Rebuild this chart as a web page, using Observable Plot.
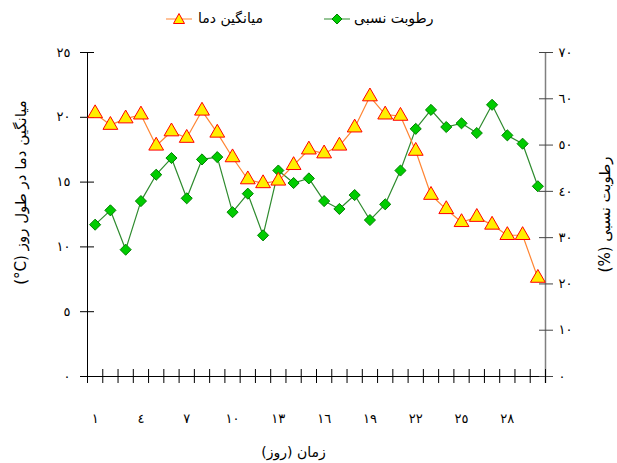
<!DOCTYPE html>
<html><head><meta charset="utf-8">
<script src="https://cdn.jsdelivr.net/npm/d3@7"></script>
<script src="https://cdn.jsdelivr.net/npm/@observablehq/plot@0.6"></script>
<style>
body{margin:0;background:#fff;font-family:"DejaVu Sans",sans-serif;}
#wrap{position:relative;width:617px;}
#legend{position:relative;height:35px;width:617px;}
#legend .sw{position:absolute;top:12px;}
#legend .lb{position:absolute;top:10px;font-size:14px;color:#000;white-space:nowrap;}
</style></head><body>
<div id="wrap"><div id="legend"></div><div id="chart"></div></div>
<script>
// ---- data ----
const days = [1,2,3,4,5,6,7,8,9,10,11,12,13,14,15,16,17,18,19,20,21,22,23,24,25,26,27,28,29,30];
const temperature = [20.3,19.4,19.9,20.2,17.8,18.9,18.4,20.5,18.8,16.9,15.2,14.9,15.1,16.3,17.5,17.2,17.8,19.2,21.6,20.2,20.1,17.4,14.0,12.9,11.9,12.3,11.7,10.9,10.9,7.6];
const humidity = [32.8,35.9,27.4,37.9,43.6,47.2,38.5,46.9,47.4,35.5,39.5,30.5,44.5,41.8,42.8,37.9,36.2,39.2,33.8,37.2,44.5,53.5,57.6,53.9,54.7,52.6,58.7,52.1,50.3,41.1];
const leftTicks = [0,5,10,15,20,25];
const rightTicks = [0,10,20,30,40,50,60,70];
const xLabelTicks = [1,4,7,10,13,16,19,22,25,28];
const xBoundaries = [0.5,1.5,2.5,3.5,4.5,5.5,6.5,7.5,8.5,9.5,10.5,11.5,12.5,13.5,14.5,15.5,16.5,17.5,18.5,19.5,20.5,21.5,22.5,23.5,24.5,25.5,26.5,27.5,28.5,29.5,30.5];
const seriesNames = ["میانگین دما","رطوبت نسبی"];
const xTitle = "زمان (روز)";
const leftTitle = "میانگین دما در طول روز \u200E(°C)\u200E";
const rightTitle = "رطوبت نسبی (%)";

const TEMP_MAX = 25, HUM_MAX = 70;
const toHumPos = v => v * TEMP_MAX / HUM_MAX;
const fromHumPos = v => Math.round(v * HUM_MAX / TEMP_MAX);
const toAr = n => String(n).replace(/\d/g, d => "٠١٢٣٤٥٦٧٨٩"[+d]);

const data = days.map((d, i) => ({day: d, temp: temperature[i], hum: humidity[i]}));

const colTempLine = "#ff8533", colTriFill = "#ffee00", colTriStroke = "#ff0000";
const colHumLine = "#2e8b2e", colDiaFill = "#00cc00", colDiaStroke = "#008000";

// ---- legend ----
const legend = document.getElementById("legend");
legend.innerHTML = `
<svg class="sw" style="left:166px" width="26" height="14"><line x1="0" y1="7" x2="26" y2="7" stroke="${colTempLine}"/><path d="M13,1.5 L18.5,11.5 L7.5,11.5 Z" fill="${colTriFill}" stroke="${colTriStroke}"/></svg>
<span class="lb" dir="rtl" style="left:198px">${seriesNames[0]}</span>
<svg class="sw" style="left:324px" width="26" height="14"><line x1="0" y1="7" x2="26" y2="7" stroke="${colHumLine}"/><path d="M13,2 L18,7 L13,12 L8,7 Z" fill="${colDiaFill}" stroke="${colDiaStroke}"/></svg>
<span class="lb" dir="rtl" style="left:354px">${seriesNames[1]}</span>`;

// ---- chart ----
const chart = Plot.plot({
  width: 617,
  height: 428,
  marginLeft: 87,
  marginRight: 72,
  marginTop: 17,
  marginBottom: 87,
  x: {domain: [0.5, 30.5], axis: null},
  y: {domain: [0, TEMP_MAX], axis: null},
  style: {fontFamily: "DejaVu Sans, sans-serif", fontSize: "13px", color: "#000", background: "#fff", overflow: "visible"},
  marks: [
    // axis lines
    Plot.ruleX([0.5], {stroke: "#000", insetBottom: -7}),
    Plot.ruleX([30.5], {stroke: "#808080", strokeWidth: 1.5, insetBottom: -7}),
    Plot.ruleY([0], {stroke: "#000", insetLeft: -7, insetRight: -7}),
    // tick marks crossing axes
    Plot.axisY(leftTicks, {anchor: "left", tickSize: 14, dx: 7, tickFormat: () => "", label: null, stroke: "#000"}),
    Plot.axisY(rightTicks.map(toHumPos), {anchor: "right", tickSize: 14, dx: -7, tickFormat: () => "", label: null, stroke: "#444"}),
    Plot.axisX(xBoundaries, {anchor: "bottom", tickSize: 14, dy: -7, tickFormat: () => "", label: null, stroke: "#000"}),
    // tick labels
    Plot.axisY(leftTicks, {anchor: "left", tickSize: 0, tickPadding: 17, tickFormat: toAr, label: null}),
    Plot.axisY(rightTicks.map(toHumPos), {anchor: "right", tickSize: 0, tickPadding: 13, tickFormat: v => toAr(fromHumPos(v)), label: null}),
    Plot.axisX(xLabelTicks, {anchor: "bottom", tickSize: 0, tickPadding: 37, tickFormat: toAr, label: null}),
    // axis titles
    Plot.text([leftTitle], {frameAnchor: "left", dx: -66, dy: -22, rotate: -90, fontSize: 15}),
    Plot.text([rightTitle], {frameAnchor: "right", dx: 60, rotate: -90, fontSize: 15}),
    Plot.text([xTitle], {frameAnchor: "bottom", dx: -23, dy: 80, fontSize: 14}),
    // humidity series (right scale)
    Plot.line(data, {x: "day", y: d => toHumPos(d.hum), stroke: colHumLine, strokeWidth: 1.2}),
    Plot.dot(data, {x: "day", y: d => toHumPos(d.hum), symbol: "diamond2", r: 5, fill: colDiaFill, stroke: colDiaStroke, strokeWidth: 1}),
    // temperature series (left scale)
    Plot.line(data, {x: "day", y: "temp", stroke: colTempLine, strokeWidth: 1.2}),
    Plot.dot(data, {x: "day", y: "temp", symbol: "triangle", r: 5.5, fill: colTriFill, stroke: colTriStroke, strokeWidth: 1})
  ]
});
document.getElementById("chart").appendChild(chart);
// right-to-left paragraph direction for the Persian axis titles, then re-centre them on their anchor
const titles = new Set([leftTitle, rightTitle, xTitle]);
chart.querySelectorAll("text").forEach(t => {
  if (!titles.has(t.textContent)) return;
  t.setAttribute("direction", "rtl");
  const bb = t.getBBox();
  const cx = bb.x + bb.width / 2;
  t.setAttribute("transform", (t.getAttribute("transform") || "") + ` translate(${-cx},0)`);
});
</script>
</body></html>
